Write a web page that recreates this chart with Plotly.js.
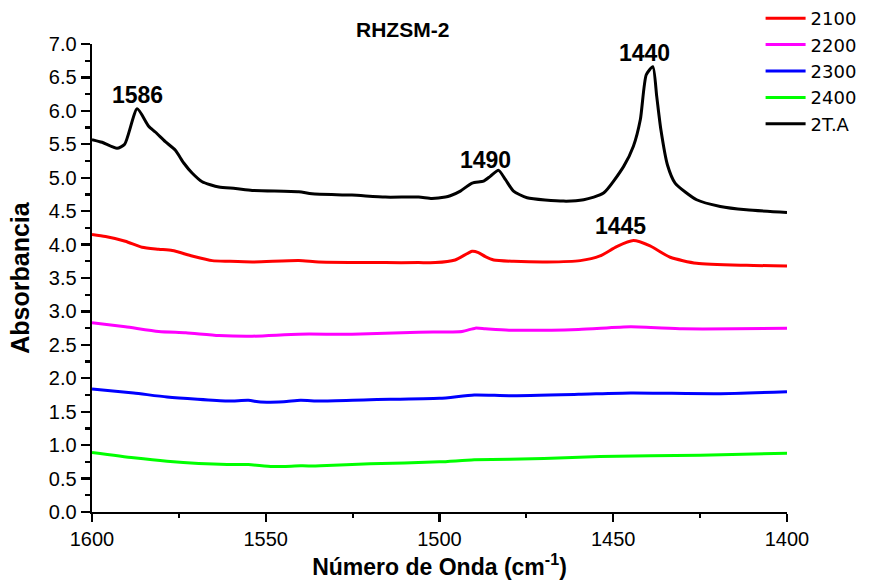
<!DOCTYPE html>
<html>
<head>
<meta charset="utf-8">
<script src="https://cdn.plot.ly/plotly-3.0.1.min.js"></script>
<style>html,body{margin:0;padding:0;background:#fff;}#chart{width:875px;height:584px;}</style>
</head>
<body>
<div id="chart"></div>
<script>
// 2T.A (black)
const xTA = [1600, 1597.1, 1592.8, 1590.6, 1587.0, 1583.7, 1581.7, 1578.9, 1576.0, 1573.6, 1571.2, 1568.3, 1563.5, 1558.7, 1553.9, 1540.5, 1536.7, 1525.2, 1515.6, 1506.0, 1502.2, 1498.3, 1496.9, 1494.0, 1490.6, 1487.3, 1485.4, 1483.0, 1481.0, 1478.7, 1474.8, 1464.3, 1458.5, 1452.8, 1447.0, 1444.2, 1442.2, 1440.5, 1438.6, 1437.5, 1436.3, 1434.4, 1432.2, 1426.0, 1419.2, 1411.7, 1400];
const yTA = [5.57, 5.53, 5.44, 5.50, 6.03, 5.77, 5.68, 5.54, 5.41, 5.22, 5.07, 4.94, 4.86, 4.84, 4.81, 4.79, 4.76, 4.74, 4.71, 4.71, 4.69, 4.71, 4.73, 4.80, 4.92, 4.95, 5.02, 5.11, 4.97, 4.80, 4.70, 4.65, 4.67, 4.77, 5.17, 5.47, 5.87, 6.54, 6.66, 6.22, 5.72, 5.19, 4.92, 4.67, 4.57, 4.52, 4.48];
// 2100 (red)
const x2100 = [1600, 1596.1, 1590.4, 1585.6, 1580.8, 1576.9, 1571.2, 1565.4, 1560.7, 1553.9, 1540.5, 1534.8, 1515.6, 1506.0, 1501.2, 1495.5, 1490.6, 1488.8, 1486.8, 1484.4, 1478.7, 1469.0, 1459.5, 1453.8, 1449.0, 1444.2, 1439.4, 1433.6, 1426.0, 1411.6, 1400];
const y2100 = [4.15, 4.12, 4.05, 3.96, 3.93, 3.91, 3.83, 3.76, 3.75, 3.74, 3.76, 3.74, 3.73, 3.73, 3.73, 3.77, 3.90, 3.88, 3.82, 3.77, 3.75, 3.74, 3.76, 3.83, 3.97, 4.06, 3.98, 3.81, 3.72, 3.69, 3.68];
// 2200 (magenta)
const x2200 = [1600, 1590.4, 1580.8, 1573.0, 1563.5, 1553.9, 1540.5, 1525.2, 1506.0, 1493.5, 1489.7, 1486.8, 1480.0, 1460.0, 1445.0, 1430.0, 1415.0, 1400];
const y2200 = [2.83, 2.77, 2.70, 2.68, 2.64, 2.63, 2.66, 2.66, 2.69, 2.70, 2.75, 2.74, 2.72, 2.73, 2.77, 2.74, 2.74, 2.75];
// 2300 (blue)
const x2300 = [1600, 1588.0, 1578.4, 1561.1, 1555.0, 1551.5, 1544.8, 1540.0, 1534.3, 1520.0, 1500.0, 1490.0, 1480.0, 1460.0, 1445.0, 1420.0, 1400];
const y2300 = [1.84, 1.78, 1.72, 1.66, 1.67, 1.645, 1.65, 1.67, 1.66, 1.68, 1.70, 1.75, 1.74, 1.76, 1.78, 1.77, 1.80];
// 2400 (green)
const x2400 = [1600, 1588.0, 1578.4, 1561.1, 1555.0, 1548.0, 1540.0, 1534.3, 1520.0, 1500.0, 1490.0, 1470.0, 1453.8, 1425.0, 1400];
const y2400 = [0.89, 0.81, 0.76, 0.71, 0.71, 0.68, 0.69, 0.69, 0.72, 0.75, 0.78, 0.80, 0.83, 0.85, 0.88];

const seriesNames = ['2100', '2200', '2300', '2400', '2T.A'];
const seriesColors = ['#ff0000', '#ff00ff', '#0000ff', '#00ff00', '#000000'];
const seriesX = [x2100, x2200, x2300, x2400, xTA];
const seriesY = [y2100, y2200, y2300, y2400, yTA];

const peakLabels = ['1586', '1490', '1440', '1445'];
const peakX = [1586.9, 1486.8, 1441.0, 1448.0];
const peakY = [6.24, 5.27, 6.86, 4.28];

const traces = seriesNames.map((n, i) => ({
  x: seriesX[i], y: seriesY[i], name: n, type: 'scatter', mode: 'lines',
  line: {color: seriesColors[i], width: 3, shape: 'spline', smoothing: 0.6}
}));

const annotations = peakLabels.map((t, i) => ({
  x: peakX[i], y: peakY[i], xref: 'x', yref: 'y', text: '<b>' + t + '</b>',
  showarrow: false, font: {family: 'Liberation Sans, Arial, sans-serif', size: 23, color: '#000'}
}));

const layout = {
  width: 875, height: 584,
  margin: {l: 92, r: 88, t: 44, b: 72, autoexpand: false},
  paper_bgcolor: '#fff', plot_bgcolor: '#fff',
  font: {family: 'Liberation Sans, Arial, sans-serif', color: '#000'},
  title: {text: '<b>RHZSM-2</b>', x: 0.447, xref: 'paper', xanchor: 'center', y: 0.949, yref: 'container', yanchor: 'middle', font: {size: 21, color: '#000'}},
  xaxis: {
    range: [1600, 1400], autorange: false, dtick: 50, tick0: 1400,
    showgrid: false, zeroline: false, showline: true, linecolor: '#000', linewidth: 2.4,
    ticks: 'outside', ticklen: 8, tickwidth: 2.2, tickcolor: '#000',
    minor: {dtick: 25, ticks: 'outside', ticklen: 4, tickwidth: 2.2, tickcolor: '#000', showgrid: false},
    tickfont: {size: 20, color: '#000'},
    title: {text: '<b>Número de Onda (cm<sup>-1</sup>)</b>', font: {size: 23, color: '#000'}, standoff: 8}
  },
  yaxis: {
    range: [0, 7], autorange: false, dtick: 0.5, tick0: 0, tickformat: '.1f',
    showgrid: false, zeroline: false, showline: true, linecolor: '#000', linewidth: 2.4,
    ticks: 'outside', ticklen: 9, tickwidth: 2.2, tickcolor: '#000',
    minor: {dtick: 0.25, ticks: 'outside', ticklen: 5, tickwidth: 2.2, tickcolor: '#000', showgrid: false},
    tickfont: {size: 20, color: '#000'},
    title: {text: '<b>Absorbancia</b>', font: {size: 25, color: '#000'}, standoff: 12}
  },
  legend: {
    x: 0.962, xanchor: 'left', y: 1.094, yanchor: 'top',
    bgcolor: 'rgba(0,0,0,0)', font: {family: 'DejaVu Sans, sans-serif', size: 18, color: '#000'},
    tracegroupgap: 0, itemwidth: 40
  },
  annotations: annotations,
  showlegend: true
};

Plotly.newPlot('chart', traces, layout, {displayModeBar: false, staticPlot: true});
</script>
</body>
</html>
